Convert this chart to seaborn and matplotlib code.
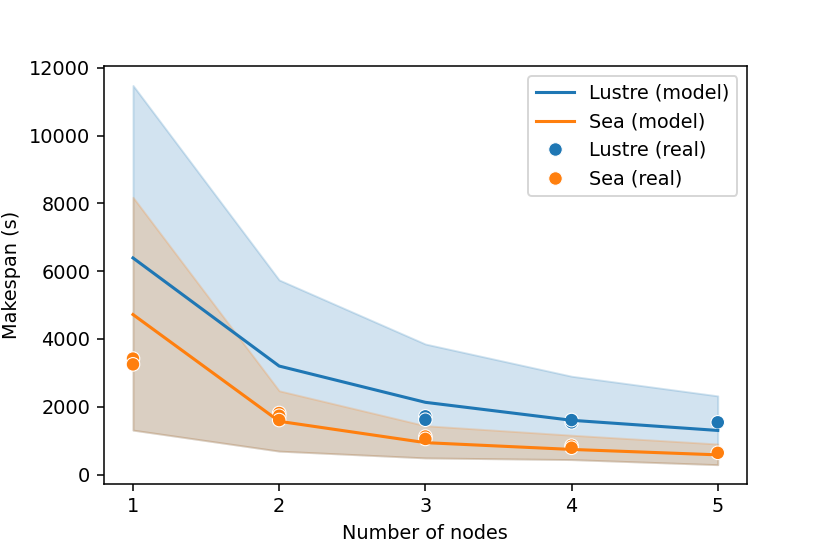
import pandas as pd
import seaborn as sns
import matplotlib.pyplot as plt

# model curves + min/max bands
nodes = [1, 2, 3, 4, 5]
lustre_model = [6390, 3200, 2130, 1600, 1300]
lustre_low = [1310, 690, 490, 440, 290]
lustre_high = [11480, 5740, 3850, 2900, 2320]
sea_model = [4720, 1570, 940, 740, 580]
sea_low = [1310, 690, 490, 440, 290]
sea_high = [8180, 2470, 1440, 1160, 900]

# measured makespans
lustre_real_x = [3, 3, 4, 4, 5]
lustre_real_y = [1716, 1616, 1540, 1607, 1540]
sea_real_x = [1, 1, 2, 2, 2, 3, 3, 4, 4, 5]
sea_real_y = [3420, 3250, 1814, 1734, 1607, 1120, 1050, 850, 790, 640]

blue = '#1f77b4'
orange = '#ff7f0e'

fig, ax = plt.subplots(figsize=(830 / 138.33, 554 / 138.33), dpi=138.33)
plt.subplots_adjust(left=0.125, right=0.9, top=0.88, bottom=0.127)

model_df = pd.DataFrame({'nodes': nodes * 2,
                         'makespan': lustre_model + sea_model,
                         'label': ['Lustre (model)'] * 5 + ['Sea (model)'] * 5})
sns.lineplot(data=model_df, x='nodes', y='makespan', hue='label',
             palette=[blue, orange], linewidth=1.6, ax=ax)
ax.fill_between(nodes, lustre_low, lustre_high, color=blue, alpha=0.2)
ax.fill_between(nodes, sea_low, sea_high, color=orange, alpha=0.2)

real_df = pd.DataFrame({'nodes': lustre_real_x + sea_real_x,
                        'makespan': lustre_real_y + sea_real_y,
                        'label': ['Lustre (real)'] * len(lustre_real_x)
                        + ['Sea (real)'] * len(sea_real_x)})
sns.scatterplot(data=real_df, x='nodes', y='makespan', hue='label',
                palette=[blue, orange], s=50, ax=ax)

ax.set_xticks(nodes)
ax.set_xlabel('Number of nodes')
ax.set_ylabel('Makespan (s)')
ax.legend(loc='upper right')

plt.savefig('out.png', dpi=138.33)
